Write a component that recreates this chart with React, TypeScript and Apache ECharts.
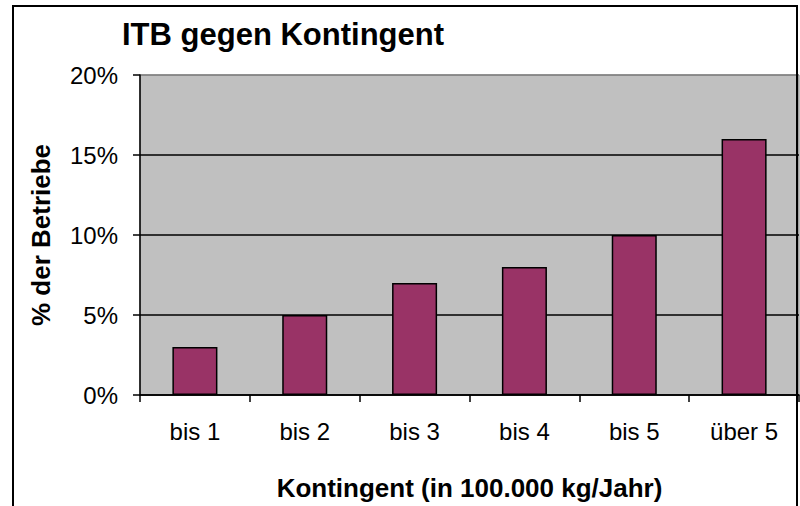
import React, { useEffect, useRef } from "react";
import * as echarts from "echarts";

const categories = ["bis 1", "bis 2", "bis 3", "bis 4", "bis 5", "über 5"];
const values = [3, 5, 7, 8, 10, 16];
const titleText = "ITB gegen Kontingent";
const xName = "Kontingent (in 100.000 kg/Jahr)";
const yName = "% der Betriebe";

const FONT = "'Liberation Sans', Arial, sans-serif";

export default function App() {
  const ref = useRef<HTMLDivElement>(null);
  useEffect(() => {
    if (!ref.current) return;
    const chart = echarts.init(ref.current, null, { renderer: "svg" });
    chart.setOption({
      animation: false,
      backgroundColor: "#ffffff",
      textStyle: { fontFamily: FONT },
      title: {
        text: titleText,
        left: 122,
        top: 19,
        padding: 0,
        textStyle: { fontFamily: FONT, fontSize: 31, fontWeight: "bold", color: "#000" },
      },
      graphic: [
        {
          type: "rect",
          shape: { x: 13, y: 6, width: 784, height: 520 },
          style: { fill: "none", stroke: "#000", lineWidth: 2 },
          z: 100,
        },
      ],
      grid: {
        left: 140,
        top: 75,
        right: 1,
        bottom: 107,
        show: true,
        backgroundColor: "#C0C0C0",
        borderColor: "#808080",
        borderWidth: 1,
      },
      xAxis: {
        type: "category",
        data: categories,
        name: xName,
        nameLocation: "middle",
        nameGap: 80,
        nameTextStyle: { fontFamily: FONT, fontSize: 26, fontWeight: "bold", color: "#000" },
        axisLine: { show: true, lineStyle: { color: "#000", width: 1.5 } },
        axisTick: { show: true, length: 7, lineStyle: { color: "#000", width: 1.5 } },
        axisLabel: { fontFamily: FONT, fontSize: 24, color: "#000", margin: 24 },
      },
      yAxis: {
        type: "value",
        min: 0,
        max: 20,
        interval: 5,
        name: yName,
        nameLocation: "middle",
        nameGap: 86,
        nameTextStyle: { fontFamily: FONT, fontSize: 26, fontWeight: "bold", color: "#000" },
        axisLine: { show: true, lineStyle: { color: "#000", width: 1.5 } },
        axisTick: { show: true, length: 7, lineStyle: { color: "#000", width: 1.5 } },
        axisLabel: {
          fontFamily: FONT,
          fontSize: 24,
          color: "#000",
          margin: 22,
          formatter: (v: number) => v + "%",
        },
        splitLine: {
          show: true,
          lineStyle: { color: ["#000", "#000", "#000", "#000", "#808080"], width: 1.5 },
        },
      },
      series: [
        {
          type: "bar",
          data: values,
          barWidth: "41%",
          itemStyle: { color: "#993366", borderColor: "#000", borderWidth: 1.5 },
        },
      ],
    });
    return () => chart.dispose();
  }, []);
  return (
    <div
      ref={ref}
      style={{ position: "fixed", left: 0, top: 0, width: 800, height: 506 }}
    />
  );
}
